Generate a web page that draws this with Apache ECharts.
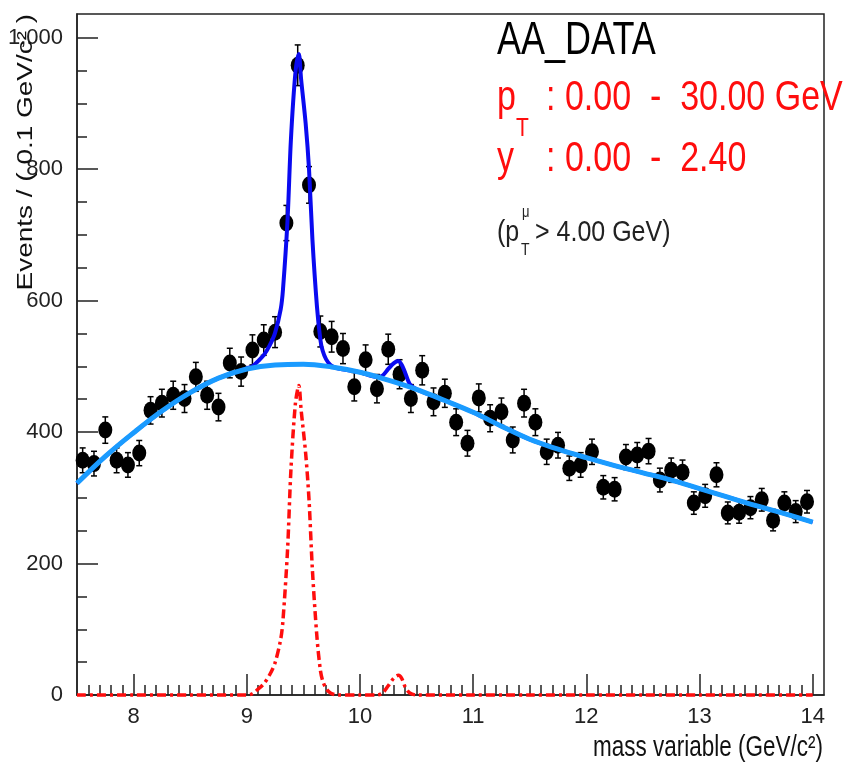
<!DOCTYPE html>
<html>
<head>
<meta charset="utf-8">
<title>AA_DATA mass fit</title>
<script src="https://cdn.jsdelivr.net/npm/echarts@6/dist/echarts.min.js"></script>
<style>
  html, body { margin: 0; padding: 0; background: #ffffff; }
  #chart { width: 851px; height: 762px; }
</style>
</head>
<body>
<div id="chart"></div>
<script>
// Binned event counts (0.1 GeV/c^2 bins)
const binCenters = [
  7.55, 7.65, 7.75, 7.85, 7.95, 8.05, 8.15, 8.25, 8.35, 8.45,
  8.55, 8.65, 8.75, 8.85, 8.95, 9.05, 9.15, 9.25, 9.35, 9.45,
  9.55, 9.65, 9.75, 9.85, 9.95, 10.05, 10.15, 10.25, 10.35, 10.45,
  10.55, 10.65, 10.75, 10.85, 10.95, 11.05, 11.15, 11.25, 11.35, 11.45,
  11.55, 11.65, 11.75, 11.85, 11.95, 12.05, 12.15, 12.25, 12.35, 12.45,
  12.55, 12.65, 12.75, 12.85, 12.95, 13.05, 13.15, 13.25, 13.35, 13.45,
  13.55, 13.65, 13.75, 13.85, 13.95
];
const eventCounts = [
  357, 352, 403, 357, 350, 368, 433, 444, 456, 451,
  484, 456, 438, 505, 492, 525, 540, 552, 718, 958,
  776, 553, 545, 527, 469, 510, 466, 526, 488, 451,
  494, 446, 459, 415, 383, 452, 421, 431, 388, 444,
  415, 370, 380, 345, 350, 370, 316, 313, 362, 365,
  371, 327, 342, 339, 292, 303, 335, 277, 278, 285,
  297, 266, 292, 279, 294
];

// Background component of the fit
const bkgMass = [
  7.5, 7.75, 8.0, 8.25, 8.5, 8.75, 9.0, 9.25, 9.5, 9.75,
  10.0, 10.25, 10.5, 10.75, 11.0, 11.25, 11.5, 11.75, 12.0, 12.25,
  12.5, 12.75, 13.0, 13.25, 13.5, 13.75, 14.0
];
const bkgValues = [
  322, 363, 399, 432, 460, 482, 496, 502, 503, 499,
  491, 479, 465, 448, 430, 409, 389, 374, 361, 349,
  338, 327, 314, 301, 288, 276, 263
];

// Total fit (background + Upsilon peaks)
const totalMass = [
  7.5, 7.75, 8.0, 8.25, 8.5, 8.75, 9.0, 9.05, 9.1, 9.15,
  9.2, 9.25, 9.3, 9.32, 9.36, 9.39, 9.43, 9.46, 9.48, 9.52,
  9.55, 9.58, 9.62, 9.65, 9.67, 9.7, 9.74, 9.8, 10.0, 10.15,
  10.2, 10.25, 10.3, 10.34, 10.37, 10.4, 10.44, 10.5, 10.75, 11.0,
  11.25, 11.5, 11.75, 12.0, 12.25, 12.5, 12.75, 13.0, 13.25, 13.5,
  13.75, 14.0
];
const totalValues = [
  322, 363, 399, 432, 460, 482, 497, 500, 508, 517,
  531, 551, 587, 617, 722, 845, 947, 975, 937, 870,
  800, 693, 591, 541, 524, 511, 502, 497, 491, 484,
  486, 496, 505, 508, 502, 490, 473, 465, 448, 430,
  409, 389, 374, 361, 349, 338, 327, 314, 301, 288,
  276, 263
];

// Signal component (Upsilon 1S and 2S)
const sigMass = [
  7.5, 8.0, 8.5, 9.0, 9.05, 9.1, 9.15, 9.2, 9.25, 9.3,
  9.32, 9.36, 9.39, 9.43, 9.46, 9.48, 9.52, 9.55, 9.58, 9.62,
  9.65, 9.67, 9.7, 9.74, 9.8, 10.0, 10.15, 10.2, 10.25, 10.3,
  10.34, 10.37, 10.4, 10.44, 10.5, 11.0, 11.5, 12.0, 12.5, 13.0,
  13.5, 14.0
];
const sigValues = [
  0, 0, 0, 0, 2, 9, 17, 30, 49, 85,
  114, 220, 342, 444, 471, 434, 368, 297, 190, 88,
  38, 22, 10, 3, 0, 0, 0, 3, 14, 26,
  30, 25, 12, 3, 0, 0, 0, 0, 0, 0,
  0, 0
];

// Axis ticks
const xMajorTicks = [8, 9, 10, 11, 12, 13, 14];
const yMajorTicks = [0, 200, 400, 600, 800, 1000];
const xRange = [7.5, 14.1];
const yRange = [0, 1036];

const xMinorTicks = [];
for (let k = 76; k <= 140; k++) {
  if (k % 10 !== 0) xMinorTicks.push(k / 10);
}
const yMinorTicks = [];
for (let v = 50; v <= 1000; v += 50) {
  if (v % 200 !== 0) yMinorTicks.push(v);
}

const pairs = (xs, ys) => xs.map((x, i) => [x, ys[i]]);

const axisColor = '#222';
const textFont = "'Liberation Sans', Arial, Helvetica, sans-serif";
const stretch = 1.27;

const chart = echarts.init(document.getElementById('chart'), null, { renderer: 'canvas' });

function errorBar(params, api) {
  const x = api.value(0);
  const y = api.value(1);
  const e = api.value(2);
  const top = api.coord([x, y + e]);
  const bot = api.coord([x, y - e]);
  const cap = 3;
  const st = { stroke: '#000', lineWidth: 1.5 };
  return {
    type: 'group',
    children: [
      { type: 'line', shape: { x1: top[0], y1: top[1], x2: bot[0], y2: bot[1] }, style: st },
      { type: 'line', shape: { x1: top[0] - cap, y1: top[1], x2: top[0] + cap, y2: top[1] }, style: st },
      { type: 'line', shape: { x1: bot[0] - cap, y1: bot[1], x2: bot[0] + cap, y2: bot[1] }, style: st }
    ]
  };
}

function label(text, x, y, size, opts) {
  const o = opts || {};
  return {
    type: 'text',
    x: x,
    y: y,
    rotation: o.rotation || 0,
    scaleX: o.scaleX || 1,
    scaleY: o.scaleY === undefined ? stretch : o.scaleY,
    z: 100,
    style: {
      text: text,
      fill: o.color || '#000',
      font: size + 'px ' + textFont,
      align: o.align || 'left',
      verticalAlign: 'middle'
    }
  };
}

const red = '#ff0d0d';

const option = {
  animation: false,
  backgroundColor: '#ffffff',
  grid: {
    left: 77, right: 27, top: 14, bottom: 67,
    show: true, borderColor: axisColor, borderWidth: 1.5,
    backgroundColor: 'transparent',
    containLabel: false,
    outerBoundsMode: 'none'
  },
  xAxis: [
    {
      type: 'value', min: xRange[0], max: xRange[1], position: 'bottom',
      axisLine: { show: true, onZero: false, lineStyle: { color: axisColor, width: 1.5 } },
      axisTick: { show: true, inside: true, length: 21, customValues: xMajorTicks,
                  lineStyle: { color: axisColor, width: 1.5 } },
      axisLabel: { show: true, customValues: xMajorTicks, margin: 11, fontSize: 22,
                   fontFamily: textFont, color: axisColor },
      splitLine: { show: false }
    },
    {
      type: 'value', min: xRange[0], max: xRange[1], position: 'bottom',
      axisLine: { show: false, onZero: false },
      axisTick: { show: true, inside: true, length: 10, customValues: xMinorTicks,
                  lineStyle: { color: axisColor, width: 1.5 } },
      axisLabel: { show: false },
      splitLine: { show: false }
    }
  ],
  yAxis: [
    {
      type: 'value', min: yRange[0], max: yRange[1], position: 'left',
      axisLine: { show: true, onZero: false, lineStyle: { color: axisColor, width: 1.5 } },
      axisTick: { show: true, inside: true, length: 21, customValues: yMajorTicks,
                  lineStyle: { color: axisColor, width: 1.5 } },
      axisLabel: { show: true, customValues: yMajorTicks, margin: 14, fontSize: 22,
                   fontFamily: textFont, color: axisColor },
      splitLine: { show: false }
    },
    {
      type: 'value', min: yRange[0], max: yRange[1], position: 'left',
      axisLine: { show: false, onZero: false },
      axisTick: { show: true, inside: true, length: 10, customValues: yMinorTicks,
                  lineStyle: { color: axisColor, width: 1.5 } },
      axisLabel: { show: false },
      splitLine: { show: false }
    }
  ],
  series: [
    {
      name: 'errors',
      type: 'custom',
      renderItem: errorBar,
      data: binCenters.map((m, i) => [m, eventCounts[i], Math.sqrt(eventCounts[i])]),
      z: 2,
      silent: true
    },
    {
      name: 'AA_DATA',
      type: 'scatter',
      data: pairs(binCenters, eventCounts),
      symbol: 'circle',
      symbolSize: [14, 17],
      itemStyle: { color: '#000', opacity: 1 },
      z: 3,
      silent: true
    },
    {
      name: 'total',
      type: 'line',
      data: pairs(totalMass, totalValues),
      showSymbol: false,
      smooth: 0.3,
      lineStyle: { color: '#0a0af0', width: 4 },
      z: 4,
      silent: true
    },
    {
      name: 'background',
      type: 'line',
      data: pairs(bkgMass, bkgValues),
      showSymbol: false,
      smooth: 0.4,
      lineStyle: { color: '#1a9bff', width: 5 },
      z: 5,
      silent: true
    },
    {
      name: 'signal',
      type: 'line',
      data: pairs(sigMass, sigValues),
      showSymbol: false,
      smooth: 0.3,
      clip: false,
      lineStyle: { color: red, width: 3.5, type: [9, 4, 3, 4] },
      z: 6,
      silent: true
    }
  ],
  graphic: [
    label('AA_DATA', 497, 41, 36),
    label('p', 497, 98, 34, { color: red }),
    label('T', 516, 129, 21, { color: red }),
    label(': 0.00  -  30.00 GeV', 546, 98, 34, { color: red }),
    label('y', 497, 159, 34, { color: red }),
    label(': 0.00  -  2.40', 546, 159, 34, { color: red }),
    label('(p', 497, 233, 25, { color: '#222', scaleY: 1.2 }),
    label('T', 521, 250, 14, { color: '#222', scaleY: 1.2 }),
    label('\u03bc', 522, 213, 13, { color: '#222', scaleY: 1.2 }),
    label('> 4.00 GeV)', 535, 233, 25, { color: '#222', scaleY: 1.2 }),
    label('mass variable (GeV/c\u00b2)', 823, 748, 22.5, { align: 'right', color: '#111' }),
    label('Events / ( 0.1 GeV/c\u00b2 )', 26, 14, 22,
          { align: 'right', rotation: Math.PI / 2, scaleX: stretch, scaleY: 1, color: '#111' })
  ]
};

chart.setOption(option);
</script>
</body>
</html>
